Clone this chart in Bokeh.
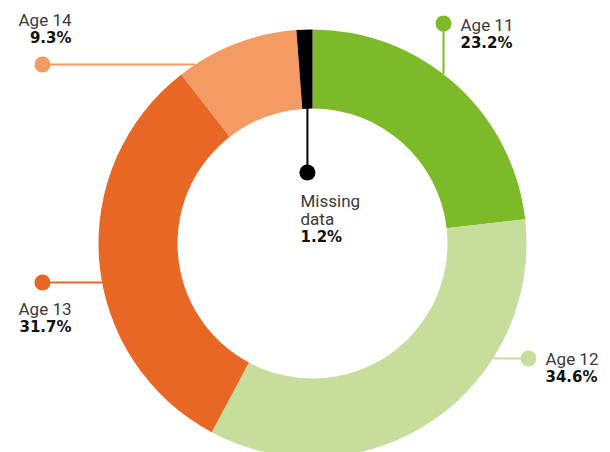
import numpy as np
from bokeh.plotting import figure
from bokeh.models import Range1d, ColumnDataSource
from bokeh.embed import file_html
from bokeh.resources import INLINE
from bokeh.core.properties import value

# ---- data ----
categories = ["Age 11", "Age 12", "Age 13", "Age 14", "Missing data"]
shares = [23.2, 34.6, 31.7, 9.3, 1.2]
colors = ["#7dba2a", "#c6dd9c", "#e96725", "#f39b63", "#000000"]

# ---- layout (pixels, centre of ring = 0,0) ----
R_OUT, R_IN = 214, 135
# leader: (orientation, fixed coordinate or None, dot x, dot y)
leaders = {
    "Age 11": ("v", 131, 131, 220),
    "Age 12": ("h", -115, 216, -115),
    "Age 13": ("h", -39, -270, -39),
    "Age 14": ("h", 179, -270, 179),
    "Missing data": ("mid", None, None, 71),
}
# label: (x, top line y, align)
labels = {
    "Age 11": (148, 219, "left"),
    "Age 12": (233, -115, "left"),
    "Age 13": (-241, -65, "right"),
    "Age 14": (-241, 224, "right"),
    "Missing data": (-12, 43, "left"),
}
LINE_GAP = 18

frac = np.array(shares) / sum(shares)
ends_cum = np.cumsum(frac)
starts_cum = ends_cum - frac
start_angle = np.pi / 2 - 2 * np.pi * starts_cum
end_angle = np.pi / 2 - 2 * np.pi * ends_cum

p = figure(width=610, height=452, x_range=Range1d(-312, 298), y_range=Range1d(-209, 243),
           output_backend="svg", toolbar_location=None, min_border=0,
           x_axis_location=None, y_axis_location=None)
p.grid.visible = False
p.outline_line_color = None
p.background_fill_color = "white"
p.border_fill_color = "white"

src = ColumnDataSource(dict(start=start_angle, end=end_angle, color=colors, cat=categories))
p.annular_wedge(x=0, y=0, inner_radius=R_IN, outer_radius=R_OUT, start_angle="start",
                end_angle="end", direction="clock", fill_color="color", line_color=None, source=src)

for i, cat in enumerate(categories):
    kind, fixed, dx, dy = leaders[cat]
    col = colors[i]
    if kind == "h":
        sx = np.sign(dx) * np.sqrt(R_OUT**2 - fixed**2)
        xs, ys = [sx, dx], [fixed, fixed]
    elif kind == "v":
        sy = np.sqrt(R_OUT**2 - fixed**2)
        xs, ys = [fixed, fixed], [sy, dy]
    else:
        mid = (start_angle[i] + end_angle[i]) / 2
        mx = R_IN * np.cos(mid)
        my = R_IN * np.sin(mid)
        dx = mx
        xs, ys = [mx, mx], [my + 2, dy]
    p.line(xs, ys, line_color=col, line_width=2)
    p.scatter([dx], [dy], size=16, fill_color=col, line_color=None)

    lx, ly, align = labels[cat]
    words = cat.split(" ") if cat == "Missing data" else [cat]
    y = ly
    for w in words:
        p.text([lx], [y], text=[w], text_font=value("Roboto"), text_font_size="17px",
               text_color="#3a3a3a", text_align=align, text_baseline="middle")
        y -= LINE_GAP
    p.text([lx], [y], text=[f"{shares[i]:.1f}%"], text_font=value("DejaVu Sans"),
           text_font_size="15px", text_font_style="bold", text_color="#111111",
           text_align=align, text_baseline="middle")

open("out.html", "w").write(file_html(p, INLINE))
